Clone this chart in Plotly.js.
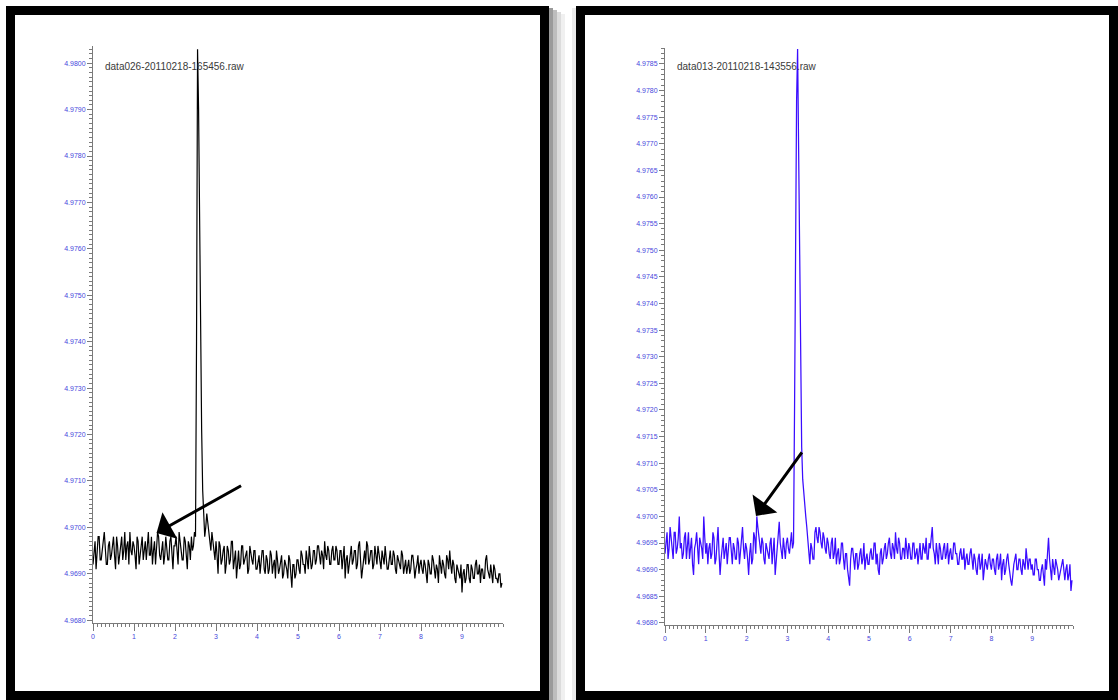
<!DOCTYPE html>
<html>
<head>
<meta charset="utf-8">
<script src="https://cdn.plot.ly/plotly-3.0.1.min.js"></script>
<style>html,body{margin:0;padding:0;background:#fff;}#chart{width:1118px;height:700px;}</style>
</head>
<body>
<div id="chart"></div>
<script>
// Sample positions (time axis): main samples and in-between samples
const xs = [
0,0.05,0.1,0.15,0.2,0.25,0.3,0.35,0.4,0.45,0.5,0.55,0.6,0.65,0.7,0.75,0.8,0.85,0.9,0.95,
1,1.05,1.1,1.15,1.2,1.25,1.3,1.35,1.4,1.45,1.5,1.55,1.6,1.65,1.7,1.75,1.8,1.85,1.9,1.95,
2,2.05,2.1,2.15,2.2,2.25,2.3,2.35,2.4,2.45,2.5,2.55,2.6,2.65,2.7,2.75,2.8,2.85,2.9,2.95,
3,3.05,3.1,3.15,3.2,3.25,3.3,3.35,3.4,3.45,3.5,3.55,3.6,3.65,3.7,3.75,3.8,3.85,3.9,3.95,
4,4.05,4.1,4.15,4.2,4.25,4.3,4.35,4.4,4.45,4.5,4.55,4.6,4.65,4.7,4.75,4.8,4.85,4.9,4.95,
5,5.05,5.1,5.15,5.2,5.25,5.3,5.35,5.4,5.45,5.5,5.55,5.6,5.65,5.7,5.75,5.8,5.85,5.9,5.95,
6,6.05,6.1,6.15,6.2,6.25,6.3,6.35,6.4,6.45,6.5,6.55,6.6,6.65,6.7,6.75,6.8,6.85,6.9,6.95,
7,7.05,7.1,7.15,7.2,7.25,7.3,7.35,7.4,7.45,7.5,7.55,7.6,7.65,7.7,7.75,7.8,7.85,7.9,7.95,
8,8.05,8.1,8.15,8.2,8.25,8.3,8.35,8.4,8.45,8.5,8.55,8.6,8.65,8.7,8.75,8.8,8.85,8.9,8.95,
9,9.05,9.1,9.15,9.2,9.25,9.3,9.35,9.4,9.45,9.5,9.55,9.6,9.65,9.7,9.75,9.8,9.85,9.9,9.95
];
const xsMid = [
0.025,0.075,0.125,0.175,0.225,0.275,0.325,0.375,0.425,0.475,0.525,0.575,0.625,0.675,0.725,0.775,0.825,0.875,0.925,0.975,
1.025,1.075,1.125,1.175,1.225,1.275,1.325,1.375,1.425,1.475,1.525,1.575,1.625,1.675,1.725,1.775,1.825,1.875,1.925,1.975,
2.025,2.075,2.125,2.175,2.225,2.275,2.325,2.375,2.425,2.475,2.525,2.575,2.625,2.675,2.725,2.775,2.825,2.875,2.925,2.975,
3.025,3.075,3.125,3.175,3.225,3.275,3.325,3.375,3.425,3.475,3.525,3.575,3.625,3.675,3.725,3.775,3.825,3.875,3.925,3.975,
4.025,4.075,4.125,4.175,4.225,4.275,4.325,4.375,4.425,4.475,4.525,4.575,4.625,4.675,4.725,4.775,4.825,4.875,4.925,4.975,
5.025,5.075,5.125,5.175,5.225,5.275,5.325,5.375,5.425,5.475,5.525,5.575,5.625,5.675,5.725,5.775,5.825,5.875,5.925,5.975,
6.025,6.075,6.125,6.175,6.225,6.275,6.325,6.375,6.425,6.475,6.525,6.575,6.625,6.675,6.725,6.775,6.825,6.875,6.925,6.975,
7.025,7.075,7.125,7.175,7.225,7.275,7.325,7.375,7.425,7.475,7.525,7.575,7.625,7.675,7.725,7.775,7.825,7.875,7.925,7.975,
8.025,8.075,8.125,8.175,8.225,8.275,8.325,8.375,8.425,8.475,8.525,8.575,8.625,8.675,8.725,8.775,8.825,8.875,8.925,8.975,
9.025,9.075,9.125,9.175,9.225,9.275,9.325,9.375,9.425,9.475,9.525,9.575,9.625,9.675,9.725,9.775,9.825,9.875,9.925,9.975
];

// data026-20110218-165456.raw (black)
const yLeft = [
4.9692,4.9697,4.9694,4.9698,4.9693,4.9697,4.9695,4.9692,4.9697,4.9694,4.9698,4.9691,4.9696,4.9694,4.9698,4.9695,4.9693,4.9697,4.9699,4.9694,
4.9696,4.9691,4.9697,4.9694,4.9698,4.9695,4.9693,4.9699,4.9694,4.9692,4.9697,4.9695,4.9698,4.9693,4.9697,4.9694,4.9696,4.9693,4.9698,4.9691,
4.9696,4.9694,4.9699,4.9695,4.9693,4.9697,4.9691,4.9696,4.9698,4.9696,4.9698,4.9803,4.9762,4.9721,4.97035,4.9700,4.9701,4.9697,4.9699,4.9695,
4.9697,4.9690,4.9696,4.9693,4.9696,4.9692,4.9695,4.9693,4.9697,4.9694,4.9689,4.9695,4.9692,4.9696,4.9693,4.9695,4.9691,4.9694,4.9692,4.9695,
4.9691,4.9694,4.9692,4.9695,4.9690,4.9693,4.9691,4.9694,4.9692,4.9689,4.9693,4.9691,4.9694,4.9690,4.9692,4.9689,4.9693,4.9687,4.9692,4.9690,
4.9693,4.9690,4.9694,4.9692,4.9695,4.9691,4.9694,4.9692,4.9695,4.9693,4.9696,4.9692,4.9694,4.9697,4.9693,4.9695,4.9692,4.9696,4.9693,4.9695,
4.9692,4.9695,4.9693,4.9689,4.9694,4.9692,4.9696,4.9693,4.9695,4.9692,4.9697,4.9689,4.9694,4.9692,4.9696,4.9693,4.9695,4.9692,4.9694,4.9696,
4.9693,4.9695,4.9692,4.9694,4.9691,4.9695,4.9692,4.9694,4.9690,4.9693,4.9691,4.9694,4.9692,4.9690,4.9693,4.9691,4.9694,4.9689,4.9692,4.9690,
4.9693,4.9690,4.9692,4.9688,4.9692,4.9690,4.9693,4.9689,4.9691,4.9694,4.9690,4.9692,4.9689,4.9693,4.9695,4.9690,4.9692,4.9688,4.9691,4.9689,
4.9686,4.9691,4.9689,4.9692,4.9688,4.9691,4.9689,4.9693,4.9690,4.9688,4.9691,4.9689,4.9694,4.9690,4.9692,4.9688,4.9691,4.9689,4.9690,4.9687
];
const yLeftMid = [
4.9695,4.9691,4.9698,4.9693,4.9696,4.9699,4.9692,4.9696,4.9693,4.9697,4.9694,4.9698,4.9692,4.9697,4.9693,4.9699,4.9696,4.9692,4.9695,4.9697,
4.9694,4.9698,4.9692,4.9697,4.9693,4.9697,4.9696,4.9694,4.9698,4.9695,4.9692,4.9699,4.9694,4.9696,4.9692,4.9698,4.9693,4.9697,4.9694,4.9696,
4.9698,4.9692,4.9696,4.9693,4.9698,4.9694,4.9697,4.9693,4.9695,4.9699,4.9740,4.9790,4.9735,4.9708,4.9698,4.9703,4.9699,4.9695,4.9696,4.9693,
4.9694,4.9697,4.9692,4.9695,4.9690,4.9696,4.9692,4.9697,4.9691,4.9695,4.9693,4.9691,4.9696,4.9692,4.9694,4.9690,4.9696,4.9693,4.9695,4.9691,
4.9693,4.9690,4.9695,4.9691,4.9694,4.9690,4.9695,4.9690,4.9693,4.9695,4.9690,4.9693,4.9689,4.9693,4.9691,4.9694,4.9690,4.9692,4.9689,4.9693,
4.9691,4.9695,4.9692,4.9690,4.9693,4.9696,4.9691,4.9695,4.9692,4.9696,4.9693,4.9695,4.9691,4.9694,4.9696,4.9692,4.9695,4.9693,4.9696,4.9692,
4.9695,4.9691,4.9696,4.9693,4.9690,4.9695,4.9692,4.9695,4.9691,4.9696,4.9693,4.9691,4.9695,4.9697,4.9692,4.9695,4.9691,4.9696,4.9692,4.9694,
4.9691,4.9693,4.9696,4.9691,4.9694,4.9692,4.9695,4.9691,4.9694,4.9692,4.9695,4.9690,4.9693,4.9692,4.9690,4.9694,4.9692,4.9691,4.9694,4.9692,
4.9691,4.9693,4.9690,4.9693,4.9690,4.9694,4.9691,4.9692,4.9688,4.9692,4.9693,4.9690,4.9694,4.9691,4.9692,4.9693,4.9689,4.9692,4.9690,4.9692,
4.9690,4.9688,4.9692,4.9689,4.9692,4.9689,4.9692,4.9690,4.9692,4.9691,4.9689,4.9693,4.9691,4.9689,4.9690,4.9692,4.9689,4.9688,4.9690,4.9688
];

// data013-20110218-143556.raw (blue)
const yRight = [
4.9693,4.9697,4.9694,4.9696,4.9692,4.9697,4.9694,4.9700,4.9695,4.9693,4.9697,4.9694,4.9692,4.9696,4.9689,4.9695,4.9693,4.9696,4.9694,4.9700,
4.9693,4.9691,4.9695,4.9693,4.9696,4.9692,4.9698,4.9689,4.9694,4.9692,4.9695,4.9693,4.9696,4.9691,4.9694,4.9692,4.9695,4.9693,4.9698,4.9692,
4.9694,4.9689,4.9695,4.9692,4.9696,4.9700,4.9696,4.9693,4.9695,4.9691,4.9694,4.9692,4.9696,4.9693,4.9689,4.9695,4.9699,4.9693,4.9696,4.9692,
4.9696,4.9693,4.9697,4.9695,4.9762,4.97878,4.9745,4.9713,4.9704,4.9700,4.9696,4.9691,4.9694,4.9692,4.9698,4.9695,4.9697,4.9694,4.9696,4.9693,
4.9695,4.9692,4.9696,4.9693,4.9691,4.9694,4.9692,4.9695,4.9690,4.9693,4.9688,4.9692,4.9694,4.9690,4.9693,4.9691,4.9694,4.9692,4.9690,4.9693,
4.9691,4.9694,4.9692,4.9695,4.9693,4.9689,4.9694,4.9692,4.9695,4.9693,4.9696,4.9692,4.9694,4.9697,4.9693,4.9695,4.9692,4.9694,4.9696,4.9692,
4.9694,4.9692,4.9695,4.9693,4.9691,4.9695,4.9692,4.9694,4.9696,4.9692,4.9694,4.9698,4.9693,4.9695,4.9691,4.9694,4.9692,4.9695,4.9693,4.9691,
4.9694,4.9692,4.9695,4.9693,4.9691,4.9694,4.9692,4.9690,4.9693,4.9691,4.9694,4.9690,4.9692,4.9689,4.9693,4.9691,4.9688,4.9692,4.9690,4.9693,
4.9690,4.9692,4.9689,4.9693,4.9691,4.9688,4.9692,4.9690,4.9693,4.9689,4.9687,4.9691,4.9693,4.9690,4.9692,4.9689,4.9691,4.9694,4.9690,4.9692,
4.9691,4.9689,4.9692,4.9690,4.9688,4.9691,4.9687,4.9690,4.9696,4.9690,4.9692,4.9689,4.9691,4.9688,4.9690,4.9692,4.9688,4.9691,4.9689,4.9686
];
const yRightMid = [
4.9696,4.9692,4.9698,4.9693,4.9697,4.9693,4.9696,4.9694,4.9692,4.9696,4.9692,4.9697,4.9694,4.9691,4.9694,4.9697,4.9691,4.9695,4.9692,4.9696,
4.9695,4.9694,4.9692,4.9697,4.9691,4.9695,4.9693,4.9692,4.9696,4.9694,4.9691,4.9696,4.9693,4.9695,4.9692,4.9696,4.9691,4.9695,4.9694,4.9695,
4.9692,4.9693,4.9691,4.9697,4.9693,4.9698,4.9694,4.9696,4.9692,4.9695,4.9693,4.9695,4.9691,4.9696,4.9692,4.9697,4.9695,4.9692,4.9694,4.9695,
4.9694,4.9695,4.9694,4.9720,4.9778,4.9768,4.9727,4.9707,4.9702,4.9698,4.9693,4.9695,4.9692,4.9697,4.9696,4.9698,4.9695,4.9697,4.9694,4.9696,
4.9693,4.9695,4.9692,4.9696,4.9693,4.9691,4.9695,4.9692,4.9693,4.9690,4.9687,4.9694,4.9691,4.9693,4.9690,4.9693,4.9691,4.9695,4.9692,4.9691,
4.9693,4.9692,4.9695,4.9691,4.9690,4.9693,4.9691,4.9694,4.9692,4.9695,4.9693,4.9695,4.9692,4.9694,4.9696,4.9692,4.9694,4.9692,4.9694,4.9695,
4.9692,4.9695,4.9692,4.9694,4.9693,4.9692,4.9695,4.9693,4.9692,4.9695,4.9697,4.9694,4.9691,4.9693,4.9695,4.9692,4.9694,4.9692,4.9695,4.9693,
4.9692,4.9695,4.9693,4.9691,4.9693,4.9692,4.9694,4.9692,4.9691,4.9693,4.9692,4.9693,4.9690,4.9692,4.9690,4.9693,4.9690,4.9691,4.9692,4.9691,
4.9692,4.9690,4.9692,4.9690,4.9693,4.9691,4.9689,4.9692,4.9691,4.9688,4.9690,4.9692,4.9690,4.9692,4.9690,4.9692,4.9690,4.9692,4.9692,4.9690,
4.9689,4.9692,4.9690,4.9688,4.9690,4.9689,4.9692,4.9693,4.9692,4.9688,4.9690,4.9692,4.9690,4.9689,4.9691,4.9690,4.9690,4.9688,4.9691,4.9688
];

const titleLeft = "data026-20110218-165456.raw";
const titleRight = "data013-20110218-143556.raw";

// interleave main and in-between samples into one ordered trace
function merge(xa, ya, xb, yb) {
  const X = [], Y = [];
  for (let i = 0; i < xa.length; i++) {
    X.push(xa[i]); Y.push(ya[i]);
    X.push(xb[i]); Y.push(yb[i]);
  }
  return {X, Y};
}
const L = merge(xs, yLeft, xsMid, yLeftMid);
const R = merge(xs, yRight, xsMid, yRightMid);

const W = 1118, H = 700;
const px = v => v / W;
const py = v => 1 - v / H;

const tickBlue = '#4848dc';
const axisGray = '#7a7a7a';
const tickFont = {family: 'Liberation Sans, Arial, sans-serif', size: 7, color: tickBlue};

function xAxis(domain, anchor) {
  return {
    domain: domain, anchor: anchor, range: [0, 10], showgrid: false, zeroline: false,
    showline: true, linecolor: axisGray, linewidth: 1,
    ticks: 'outside', ticklen: 7, tickcolor: axisGray, tickwidth: 1,
    tickfont: tickFont, tickformat: 'd',
    tickvals: [0,1,2,3,4,5,6,7,8,9],
    minor: {dtick: 0.1, tick0: 0, ticks: 'outside', ticklen: 3, tickcolor: axisGray, showgrid: false},
    fixedrange: true
  };
}
function xMidAxis(domain, anchor, over) {
  return {
    domain: domain, anchor: anchor, overlaying: over, range: [0, 10], showgrid: false, zeroline: false,
    showline: false, ticks: 'outside', ticklen: 5, tickcolor: axisGray, tickwidth: 1,
    tickvals: [0.5,1.5,2.5,3.5,4.5,5.5,6.5,7.5,8.5,9.5], showticklabels: false, fixedrange: true
  };
}
function yAxis(domain, anchor, range, dtick) {
  return {
    domain: domain, anchor: anchor, range: range, showgrid: false, zeroline: false,
    showline: true, linecolor: axisGray, linewidth: 1,
    ticks: 'outside', ticklen: 5, tickcolor: axisGray, tickwidth: 1,
    tick0: 4.968, dtick: dtick, tickformat: '.4f', tickfont: tickFont,
    minor: {dtick: 0.0001, tick0: 4.968, ticks: 'outside', ticklen: 3, tickcolor: axisGray, showgrid: false},
    fixedrange: true
  };
}

const traces = [
  {x: L.X, y: L.Y, type: 'scatter', mode: 'lines', xaxis: 'x', yaxis: 'y',
   line: {color: '#000000', width: 1.2}, hoverinfo: 'skip'},
  {x: R.X, y: R.Y, type: 'scatter', mode: 'lines', xaxis: 'x2', yaxis: 'y2',
   line: {color: '#3a0cff', width: 1.25}, hoverinfo: 'skip'}
];

const frameLine = {color: '#000', width: 9};
const layout = {
  width: W, height: H,
  margin: {l: 0, r: 0, t: 0, b: 0},
  paper_bgcolor: '#fff', plot_bgcolor: 'rgba(0,0,0,0)',
  showlegend: false,
  xaxis: xAxis([px(93), px(503)], 'y'),
  yaxis: yAxis([1 - 623/H, 1 - 46/H], 'x', [4.96794, 4.98037], 0.001),
  xaxis2: xAxis([px(665), px(1073)], 'y2'),
  yaxis2: yAxis([1 - 625/H, 1 - 48/H], 'x2', [4.96796, 4.97880], 0.0005),
  xaxis3: xMidAxis([px(93), px(503)], 'y', 'x'),
  xaxis4: xMidAxis([px(665), px(1073)], 'y2', 'x2'),
  shapes: [
    {type: 'rect', xref: 'paper', yref: 'paper', x0: px(549), x1: px(553), y0: py(700), y1: py(8), fillcolor: '#9a9a9a', line: {width: 0}},
    {type: 'rect', xref: 'paper', yref: 'paper', x0: px(553), x1: px(557), y0: py(700), y1: py(10), fillcolor: '#bdbdbd', line: {width: 0}},
    {type: 'rect', xref: 'paper', yref: 'paper', x0: px(557), x1: px(561), y0: py(700), y1: py(12), fillcolor: '#dcdcdc', line: {width: 0}},
    {type: 'rect', xref: 'paper', yref: 'paper', x0: px(561), x1: px(565), y0: py(700), y1: py(14), fillcolor: '#f0f0f0', line: {width: 0}},
    {type: 'rect', xref: 'paper', yref: 'paper', x0: px(572), x1: px(576), y0: py(700), y1: py(8), fillcolor: '#ebebeb', line: {width: 0}},
    {type: 'rect', xref: 'paper', yref: 'paper', x0: px(10.5), x1: px(544.5), y0: py(695.5), y1: py(10.5), line: frameLine, fillcolor: 'rgba(0,0,0,0)'},
    {type: 'rect', xref: 'paper', yref: 'paper', x0: px(580.5), x1: px(1113.5), y0: py(695.5), y1: py(10.5), line: frameLine, fillcolor: 'rgba(0,0,0,0)'}
  ],
  annotations: [
    {xref: 'paper', yref: 'paper', x: px(103), y: py(66), xanchor: 'left', yanchor: 'middle',
     text: titleLeft, showarrow: false, font: {family: 'Liberation Sans, Arial, sans-serif', size: 10, color: '#3a3a3a'}},
    {xref: 'paper', yref: 'paper', x: px(675), y: py(66), xanchor: 'left', yanchor: 'middle',
     text: titleRight, showarrow: false, font: {family: 'Liberation Sans, Arial, sans-serif', size: 10, color: '#3a3a3a'}},
    {xref: 'x', yref: 'y', x: 1.55, y: 4.96988, ax: 86, ay: -48, text: '', showarrow: true,
     arrowhead: 1, arrowsize: 1.7, arrowwidth: 3, arrowcolor: '#000'},
    {xref: 'x2', yref: 'y2', x: 2.23, y: 4.97001, ax: 47, ay: -65, text: '', showarrow: true,
     arrowhead: 1, arrowsize: 1.7, arrowwidth: 3, arrowcolor: '#000'}
  ]
};

Plotly.newPlot('chart', traces, layout, {displayModeBar: false, staticPlot: true});
</script>
</body>
</html>
